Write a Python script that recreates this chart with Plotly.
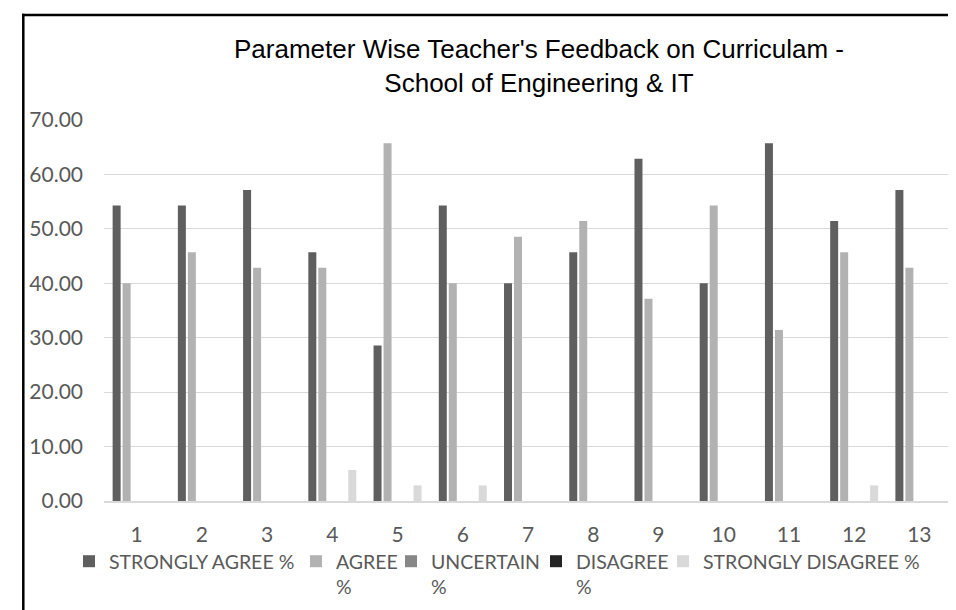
import plotly.graph_objects as go

categories = ["1", "2", "3", "4", "5", "6", "7", "8", "9", "10", "11", "12", "13"]
strongly_agree = [54.29, 54.29, 57.14, 45.71, 28.57, 54.29, 40.00, 45.71, 62.86, 40.00, 65.71, 51.43, 57.14]
agree = [40.00, 45.71, 42.86, 42.86, 65.71, 40.00, 48.57, 51.43, 37.14, 54.29, 31.43, 45.71, 42.86]
uncertain = [0, 0, 0, 0, 0, 0, 0, 0, 0, 0, 0, 0, 0]
disagree = [0, 0, 0, 0, 0, 0, 0, 0, 0, 0, 0, 0, 0]
strongly_disagree = [0, 0, 0, 5.71, 2.86, 2.86, 0, 0, 0, 0, 0, 2.86, 0]

series_names = ["STRONGLY AGREE %", "AGREE<br>%", "UNCERTAIN<br>%", "DISAGREE<br>%", "STRONGLY DISAGREE %"]
series_values = [strongly_agree, agree, uncertain, disagree, strongly_disagree]
series_colors = ["#5F5F5F", "#B2B2B2", "#878787", "#242424", "#D9D9D9"]
legend_widths = [182, 50, 100, 82, 232]

TICK_FONT = dict(family="Lato, 'Open Sans', sans-serif", size=21, color="#595959")
LEGEND_FONT = dict(family="Lato, 'Open Sans', sans-serif", size=19.5, color="#595959")

fig = go.Figure()
for name, vals, col, lw in zip(series_names, series_values, series_colors, legend_widths):
    fig.add_trace(go.Bar(
        x=categories, y=vals, name=name,
        marker=dict(color=col, line=dict(width=0)),
        legendwidth=lw,
    ))

W, H = 956, 610
L, R, T, B = 96, 12, 112, 108
pw = W - L - R
ph = H - T - B

def px_x(p):
    return (p - L) / pw

def px_y(p):
    return (H - B - p) / ph

fig.update_layout(
    width=W, height=H,
    margin=dict(l=L, r=R, t=T, b=B),
    paper_bgcolor="white", plot_bgcolor="white",
    barmode="group", bargap=0.234, bargroupgap=0.2,
    title=dict(
        text="Parameter Wise Teacher's Feedback on Curriculam -<br>School of Engineering & IT",
        font=dict(family="'Liberation Sans', Arial, sans-serif", size=26, color="#000000"),
        x=531 / W, xanchor="center", xref="container",
        y=1 - 50 / H, yanchor="top", yref="container",
    ),
    xaxis=dict(
        type="category", tickfont=TICK_FONT, showgrid=False,
        showline=True, linecolor="#D9D9D9", linewidth=1.5,
        ticks="", ticklabelstandoff=14,
    ),
    yaxis=dict(
        range=[0, 70], dtick=10, tickformat=".2f", tickfont=TICK_FONT,
        showgrid=True, gridcolor="#D9D9D9", gridwidth=1,
        zeroline=False, showline=False, ticks="", ticklabelstandoff=20,
    ),
    legend=dict(
        orientation="h", x=px_x(61), xanchor="left",
        y=px_y(544), yanchor="top", yref="paper",
        font=LEGEND_FONT, valign="top", traceorder="normal",
        bgcolor="rgba(0,0,0,0)", borderwidth=0,
    ),
    shapes=[
        dict(type="line", xref="paper", yref="paper",
             x0=px_x(14), x1=px_x(1000), y0=px_y(4.5), y1=px_y(4.5),
             line=dict(color="black", width=2.5)),
        dict(type="line", xref="paper", yref="paper",
             x0=px_x(15.3), x1=px_x(15.3), y0=px_y(3.3), y1=px_y(700),
             line=dict(color="black", width=2.5)),
    ],
)

fig.write_html("out.html")
